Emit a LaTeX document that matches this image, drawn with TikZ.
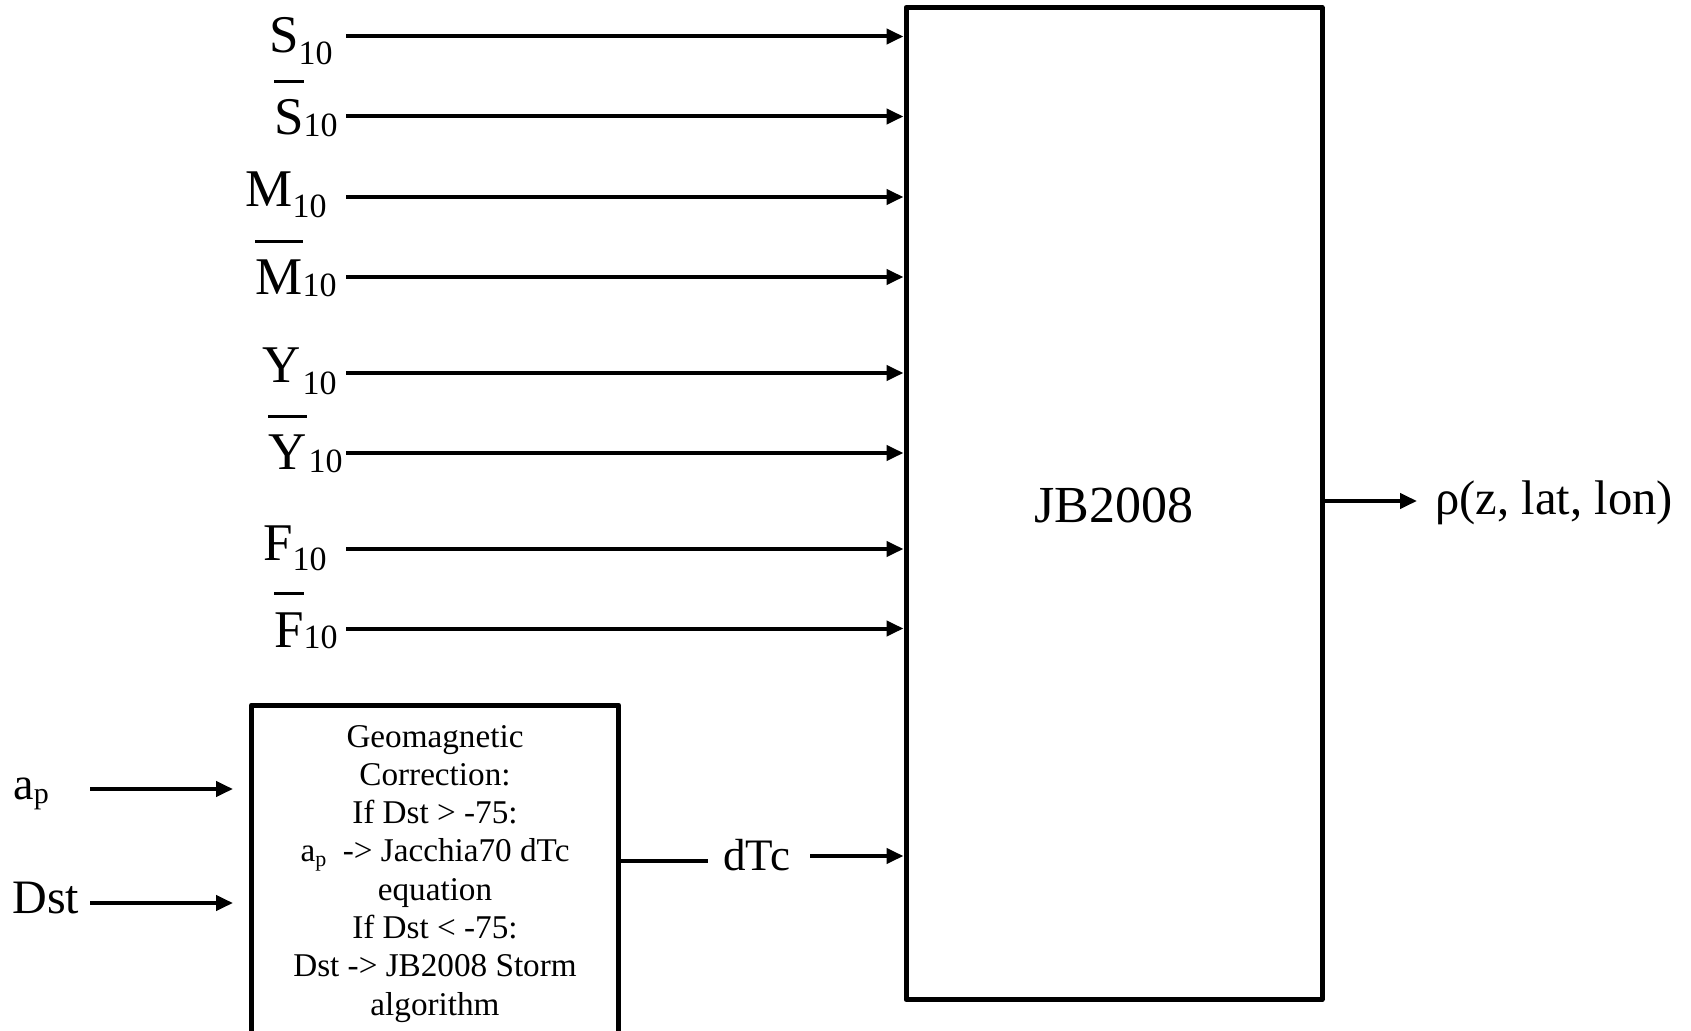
\documentclass[tikz,border=0pt]{standalone}
\usepackage{fontspec}
\setmainfont{Liberation Serif}
\usetikzlibrary{arrows.meta}
\newcommand{\subsc}[2]{\raisebox{-#2}{\fontsize{17pt}{17pt}\selectfont #1}}
\newcommand{\barit}[1]{\setbox0\hbox{#1}\rlap{\raisebox{\dimexpr\ht0+8.5pt\relax}{\rule{\wd0}{1.5pt}}}\box0}
\begin{document}
\begin{tikzpicture}[x=0.5pt,y=-0.5pt,
  arr/.style={line width=2pt,-{Triangle[length=8.5pt,width=7.5pt]}},
  plain/.style={line width=2pt},
  boxed/.style={draw,line width=2.5pt,inner sep=0pt,line join=round},
  lab/.style={inner sep=0pt,font=\fontsize{26.5pt}{30pt}\selectfont},
  txt/.style={inner sep=0pt}]
\useasboundingbox (0,0) rectangle (1691,1031);
\clip (0,0) rectangle (1691,1031);
% main box
\node[boxed,minimum width=208pt,minimum height=496pt] (jb) at (1114,503.5) {};
\node[txt,anchor=base,font=\fontsize{26pt}{30pt}\selectfont] (jbtext) at (1114,523) {JB2008};
% geomagnetic box
\node[boxed,minimum width=183.5pt,minimum height=170pt] (geo) at (435,875) {};
\node[txt,anchor=base,font=\fontsize{16.6pt}{19.15pt}\selectfont] (geotext) at (435,747)
 {\parbox[t]{180pt}{\centering Geomagnetic\\Correction:\\If Dst > -75:\\a\raisebox{-2.5pt}{\fontsize{11pt}{11pt}\selectfont p}\ \ -> Jacchia70 dTc\\equation\\If Dst < -75:\\Dst -> JB2008 Storm\\algorithm}};
% input labels
\node[lab,anchor=base east] (l1) at (333,53) {S\subsc{10}{6pt}};
\node[lab,anchor=base east] (l2) at (338,135) {\barit{S}\subsc{10}{1pt}};
\node[lab,anchor=base east] (l3) at (327,207) {M\subsc{10}{5.5pt}};
\node[lab,anchor=base east] (l4) at (337,295) {\barit{M}\subsc{10}{1pt}};
\node[lab,anchor=base east] (l5) at (337,383) {Y\kern1pt\subsc{10}{6pt}};
\node[lab,anchor=base east] (l6) at (343,470) {\barit{Y}\kern1pt\subsc{10}{1.5pt}};
\node[lab,anchor=base east] (l7) at (327,560) {F\subsc{10}{5pt}};
\node[lab,anchor=base east] (l8) at (338,647) {\barit{F}\subsc{10}{0.5pt}};
% input arrow starts
\coordinate (s1) at (346,36.5);
\coordinate (s2) at (346,116.5);
\coordinate (s3) at (346,197);
\coordinate (s4) at (346,277);
\coordinate (s5) at (346,373);
\coordinate (s6) at (346,453);
\coordinate (s7) at (346,549);
\coordinate (s8) at (346,628.5);
\foreach \s in {s1,s2,s3,s4,s5,s6,s7,s8}
  \draw[arr] (\s) -- (\s -| jb.west);
% output
\coordinate (outend) at (1417,501);
\draw[arr] (outend -| jb.east) -- (outend);
\node[txt,anchor=base west,font=\fontsize{24.3pt}{28pt}\selectfont] (rho) at (1435,515) {ρ(z, lat, lon)};
% ap and Dst
\node[txt,anchor=base west,font=\fontsize{23pt}{26pt}\selectfont] (ap) at (13,799) {a\raisebox{-2pt}{\fontsize{15pt}{15pt}\selectfont p}};
\node[txt,anchor=base west,font=\fontsize{24pt}{28pt}\selectfont] (dst) at (12,913) {Dst};
\coordinate (apS) at (90,789);
\coordinate (apE) at (233,789);
\coordinate (dsS) at (90,903);
\coordinate (dsE) at (233,903);
\draw[arr] (apS) -- (apE);
\draw[arr] (dsS) -- (dsE);
% dTc
\coordinate (dl) at (708,861);
\draw[plain] (dl -| geo.east) -- (dl);
\node[txt,anchor=base west,font=\fontsize{22.5pt}{26pt}\selectfont] (dtc) at (723,870) {dTc};
\coordinate (dr) at (810,856);
\draw[arr] (dr) -- (dr -| jb.west);
\end{tikzpicture}
\end{document}
